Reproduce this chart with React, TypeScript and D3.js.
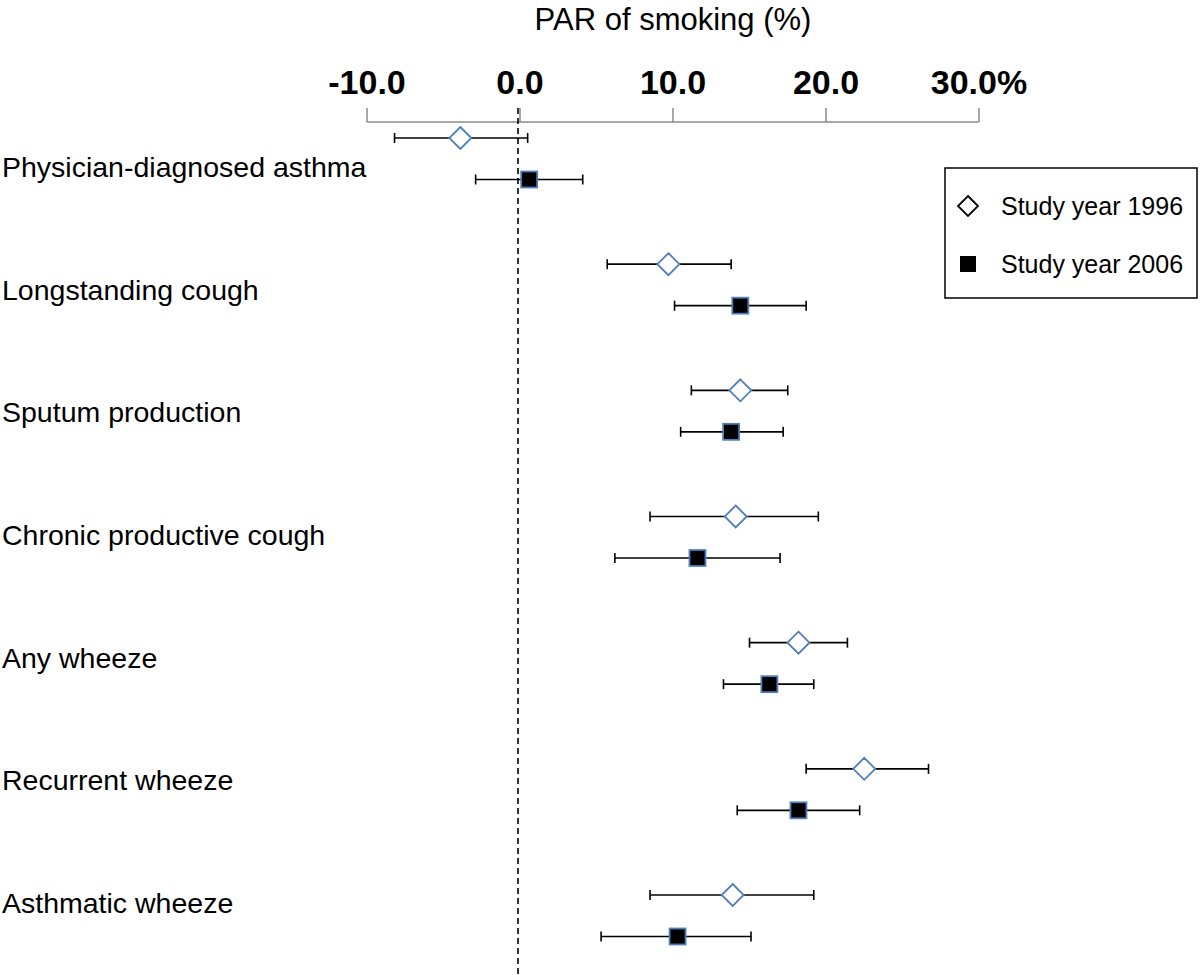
import React from "react";
import * as d3 from "d3";

const categories = [
  "Physician-diagnosed asthma",
  "Longstanding cough",
  "Sputum production",
  "Chronic productive cough",
  "Any wheeze",
  "Recurrent wheeze",
  "Asthmatic wheeze",
];
const est1996 = [-3.9, 9.7, 14.4, 14.1, 18.2, 22.5, 13.9];
const lo1996 = [-8.2, 5.7, 11.2, 8.5, 15.0, 18.7, 8.5];
const hi1996 = [0.5, 13.8, 17.5, 19.5, 21.4, 26.7, 19.2];
const est2006 = [0.6, 14.4, 13.8, 11.6, 16.3, 18.2, 10.3];
const lo2006 = [-2.9, 10.1, 10.5, 6.2, 13.3, 14.2, 5.3];
const hi2006 = [4.1, 18.7, 17.2, 17.0, 19.2, 22.2, 15.1];
const tickValues = [-10, 0, 10, 20, 30];
const tickLabels = ["-10.0", "0.0", "10.0", "20.0", "30.0%"];
const legendLabels = ["Study year 1996", "Study year 2006"];

const W = 1200;
const H = 975;
const FONT = "'Liberation Sans', Arial, Helvetica, sans-serif";
const BLUE = "#4f7fba";

export default function App() {
  const x = d3.scaleLinear().domain([-10, 30]).range([367, 979]);
  const rowY = d3.scaleLinear().domain([0, categories.length - 1]).range([138, 895]);
  const labelY = d3.scaleLinear().domain([0, categories.length - 1]).range([167, 903]);
  const off = 41.5;
  const axisY = 122;
  const cap = 5;
  const dsz = 11;
  const sq = 8;

  const rows = categories.map((c, i) => ({
    c,
    i,
    y1: rowY(i),
    y2: rowY(i) + off,
    e1: est1996[i], l1: lo1996[i], h1: hi1996[i],
    e2: est2006[i], l2: lo2006[i], h2: hi2006[i],
  }));

  const bar = (lo: number, hi: number, y: number) => (
    <g stroke="#000" strokeWidth={1.6}>
      <line x1={x(lo)} x2={x(hi)} y1={y} y2={y} />
      <line x1={x(lo)} x2={x(lo)} y1={y - cap} y2={y + cap} />
      <line x1={x(hi)} x2={x(hi)} y1={y - cap} y2={y + cap} />
    </g>
  );

  return (
    <svg width={W} height={H} style={{ position: "absolute", left: 0, top: 0, background: "#fff" }} fontFamily={FONT}>
      <rect width={W} height={H} fill="#fff" />
      <text x={673} y={30} textAnchor="middle" fontSize={31} fill="#000">PAR of smoking (%)</text>
      {tickValues.map((t, i) => (
        <text key={t} x={x(t) + (i === 4 ? 0 : 0)} y={94} textAnchor="middle" fontSize={34} fontWeight="bold" fill="#000">
          {tickLabels[i]}
        </text>
      ))}
      <line x1={x(-10)} x2={x(30)} y1={axisY} y2={axisY} stroke="#8a8a8a" strokeWidth={1.5} />
      {tickValues.map((t) => (
        <line key={t} x1={x(t)} x2={x(t)} y1={axisY - 14} y2={axisY} stroke="#8a8a8a" strokeWidth={1.5} />
      ))}
      <line x1={x(0) - 2} x2={x(0) - 2} y1={108} y2={H} stroke="#000" strokeWidth={1.6} strokeDasharray="6,4" />
      {rows.map((r) => (
        <g key={r.c}>
          <text x={2} y={labelY(r.i)} dy="0.35em" fontSize={28.5} fill="#000">{r.c}</text>
          {bar(r.l1, r.h1, r.y1)}
          {bar(r.l2, r.h2, r.y2)}
          <path
            d={`M${x(r.e1)},${r.y1 - dsz}L${x(r.e1) + dsz},${r.y1}L${x(r.e1)},${r.y1 + dsz}L${x(r.e1) - dsz},${r.y1}Z`}
            fill="#fff" stroke={BLUE} strokeWidth={1.8}
          />
          <rect x={x(r.e2) - sq} y={r.y2 - sq} width={sq * 2} height={sq * 2} fill="#000" stroke={BLUE} strokeWidth={1.8} />
        </g>
      ))}
      <g>
        <rect x={945} y={168} width={252} height={130} fill="#fff" stroke="#000" strokeWidth={1.5} />
        <path d="M968,196L978,206L968,216L958,206Z" fill="#fff" stroke="#000" strokeWidth={1.8} />
        <text x={1001} y={206} dy="0.35em" fontSize={25} fill="#000">{legendLabels[0]}</text>
        <rect x={960} y={256} width={16} height={16} fill="#000" />
        <text x={1001} y={264} dy="0.35em" fontSize={25} fill="#000">{legendLabels[1]}</text>
      </g>
    </svg>
  );
}
